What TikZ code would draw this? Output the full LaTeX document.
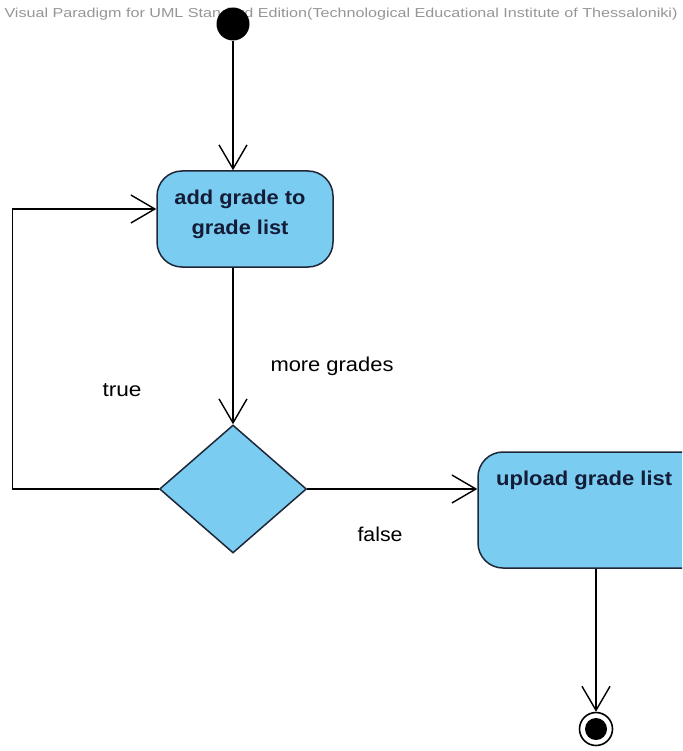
\documentclass[tikz,border=0pt]{standalone}
\usepackage{fontspec}
\setmainfont{Liberation Sans}
\usetikzlibrary{arrows.meta,shapes.geometric}
\definecolor{actfill}{RGB}{122,204,240}
\definecolor{actline}{RGB}{30,38,55}
\definecolor{acttext}{RGB}{20,28,55}
\definecolor{hdrgray}{RGB}{150,150,150}
% stretch a text horizontally to a given width, keeping its height
\newcommand{\fitw}[2]{\resizebox{#1}{\height}{#2}}

\begin{document}
\begin{tikzpicture}[x=1pt,y=-1pt,
  flow/.style={draw=black,line width=1.4pt,
    -{Straight Barb[length=24pt,width=28pt,line width=1.4pt]}},
  activity/.style={draw=actline,fill=actfill,rounded corners=25pt,
    line width=1.5pt,inner sep=0pt},
  decision/.style={diamond,draw=actline,fill=actfill,line width=1.5pt,
    inner sep=0pt},
  acttxt/.style={text=acttext,font=\fontsize{20}{30}\selectfont\bfseries,
    inner sep=0pt},
  guard/.style={text=black,font=\fontsize{20}{22}\selectfont,inner sep=0pt},
]
\useasboundingbox (0,0) rectangle (682,751);
\clip (0,0) rectangle (682,751);

% tool banner
\node[text=hdrgray,font=\fontsize{13}{15}\selectfont,inner sep=0pt] (hdr) at (341,14)
  {\fitw{673pt}{Visual Paradigm for UML Standard Edition(Technological Educational Institute of Thessaloniki)}};

% initial node
\node[circle,fill=black,minimum size=33pt,inner sep=0pt] (start) at (233,24) {};

% activities
\node[activity,minimum width=176pt,minimum height=96pt] (add) at (245,219) {};
\node[acttxt,align=center] (addtxt) at (240,214)
  {\fitw{131pt}{add grade to}\\\fitw{97pt}{grade list}};

\node[decision,minimum width=147pt,minimum height=128pt] (dec) at (233,489) {};

\node[activity,minimum width=236pt,minimum height=116pt] (up) at (596,510) {};
\node[acttxt,anchor=base west] (uptxt) at (496,485) {\fitw{176pt}{upload grade list}};

% final node
\node[circle,draw=black,fill=white,line width=1.6pt,minimum size=33pt,inner sep=0pt] (end) at (596,729) {};
\fill[black] (end.center) circle (11pt);

% control flows
\draw[flow] (start) -- (start |- add.north);
\draw[flow] (add.south -| dec.north) -- (dec.north);
\draw[flow] (dec.west) -- ++(-146,0) |- ([yshift=10pt]add.west);
\draw[flow] (dec.east) -- (dec.east -| up.west);
\draw[flow] (up.south) -- (end.north);

% guards
\node[guard] (more) at (332,366) {\fitw{123pt}{more grades}};
\node[guard] (true) at (122,390) {\fitw{39pt}{true}};
\node[guard] (false) at (380,534) {\fitw{45pt}{false}};
\end{tikzpicture}
\end{document}
